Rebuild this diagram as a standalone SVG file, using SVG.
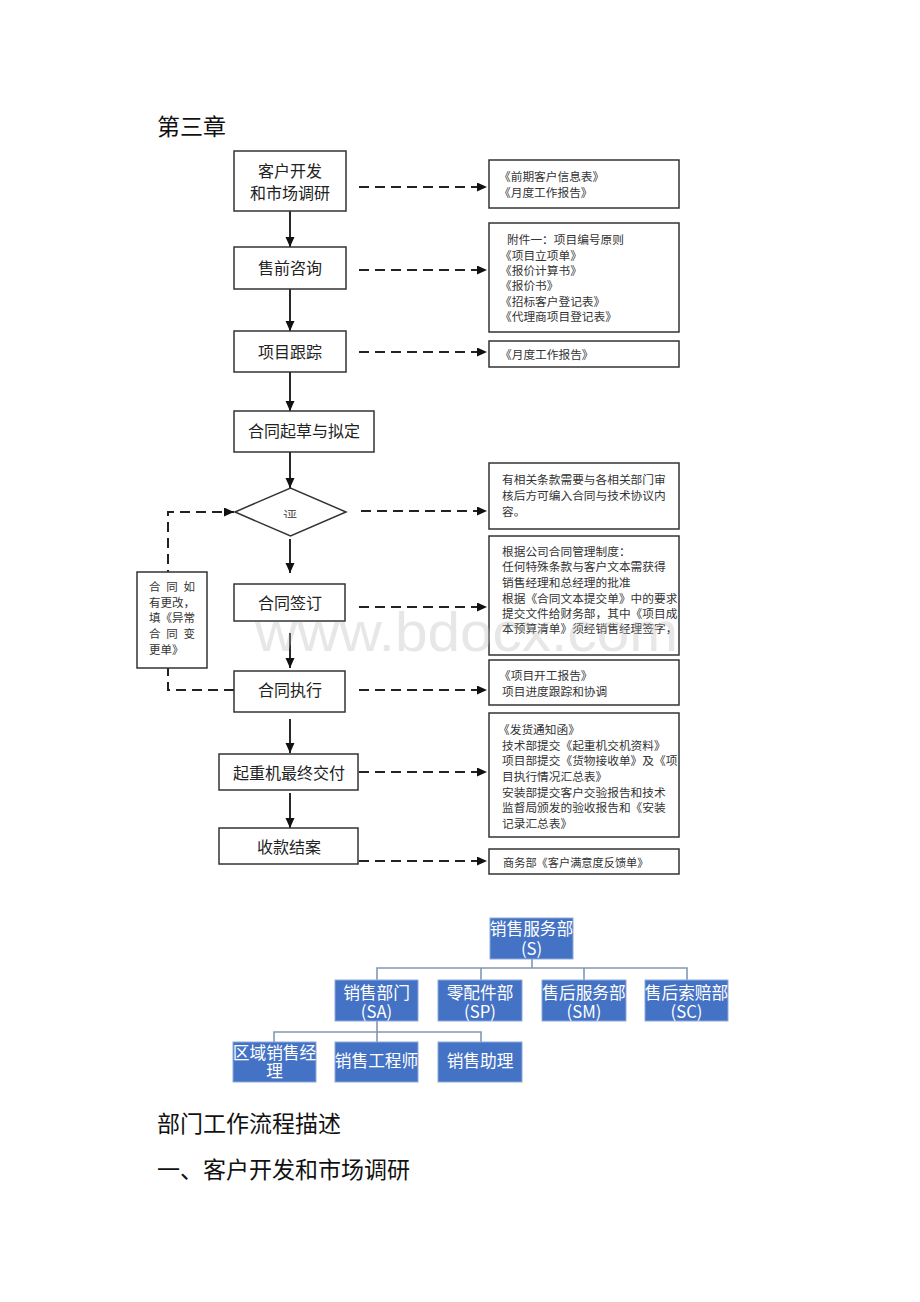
<svg xmlns="http://www.w3.org/2000/svg" width="920" height="1302" viewBox="0 0 920 1302">
<style>
text{font-family:"Noto Sans CJK SC","Liberation Sans",sans-serif;dominant-baseline:central}
.h{font-size:23px;fill:#111}
.bx{fill:#fff;stroke:#333;stroke-width:1.5}
.mt{font-size:16px;fill:#222;text-anchor:middle}
.rt{font-size:11.7px;fill:#333}
.lt{font-size:11.5px;fill:#333}
.sol{stroke:#111;stroke-width:1.8;fill:none}
.dash{stroke:#222;stroke-width:2;fill:none;stroke-dasharray:10 6}
.ob{fill:#4472c4;stroke:#8eaadb;stroke-width:1}
.ot{font-size:16.7px;fill:#fff;text-anchor:middle}
.oc{stroke:#8497b0;stroke-width:1.6;fill:none}
</style>
<defs>
<marker id="ah" markerUnits="userSpaceOnUse" markerWidth="11" markerHeight="10" refX="10" refY="4.5" orient="auto"><path d="M0,0 L10,4.5 L0,9 z" fill="#111"/></marker>
<clipPath id="cp"><rect x="270" y="500" width="40" height="18"/></clipPath>
</defs>

<text class="h" x="157" y="125">第三章</text>

<g id="connectors">
<line class="sol" x1="290" y1="211" x2="290" y2="247" marker-end="url(#ah)"/>
<line class="sol" x1="290" y1="289" x2="290" y2="331" marker-end="url(#ah)"/>
<line class="sol" x1="290" y1="372" x2="290" y2="411" marker-end="url(#ah)"/>
<line class="sol" x1="290" y1="452" x2="290" y2="488" marker-end="url(#ah)"/>
<line class="sol" x1="290" y1="539" x2="290" y2="573" marker-end="url(#ah)"/>
<line class="sol" x1="290" y1="633" x2="290" y2="668" marker-end="url(#ah)"/>
<line class="sol" x1="290" y1="719" x2="290" y2="753" marker-end="url(#ah)"/>
<line class="sol" x1="290" y1="793" x2="290" y2="828" marker-end="url(#ah)"/>
<line class="dash" x1="359" y1="187" x2="487" y2="187" marker-end="url(#ah)"/>
<line class="dash" x1="359" y1="270" x2="487" y2="270" marker-end="url(#ah)"/>
<line class="dash" x1="359" y1="352" x2="487" y2="352" marker-end="url(#ah)"/>
<line class="dash" x1="361" y1="511" x2="487" y2="511" marker-end="url(#ah)"/>
<line class="dash" x1="359" y1="607" x2="487" y2="607" marker-end="url(#ah)"/>
<line class="dash" x1="359" y1="690" x2="487" y2="690" marker-end="url(#ah)"/>
<line class="dash" x1="359" y1="772" x2="487" y2="772" marker-end="url(#ah)"/>
<line class="dash" x1="359" y1="861" x2="487" y2="861" marker-end="url(#ah)"/>
<path class="dash" d="M234,690 H168 V512 H234" marker-end="url(#ah)"/>
</g>

<g id="n1"><rect class="bx" x="234" y="151" width="112" height="60"/><text class="mt" x="290" y="170">客户开发</text><text class="mt" x="290" y="192">和市场调研</text></g>
<g id="n2"><rect class="bx" x="234" y="247" width="112" height="42"/><text class="mt" x="290" y="267">售前咨询</text></g>
<g id="n3"><rect class="bx" x="234" y="331" width="112" height="41"/><text class="mt" x="290" y="351">项目跟踪</text></g>
<g id="n4"><rect class="bx" x="234" y="411" width="140" height="41"/><text class="mt" x="304" y="430">合同起草与拟定</text></g>
<g id="n5"><path class="bx" d="M235,512 L290.5,488 L346,512 L290.5,536 Z"/><text x="290" y="515" style="font-size:14px;fill:#555;text-anchor:middle" clip-path="url(#cp)">评</text></g>
<g id="n6"><rect class="bx" x="234" y="584" width="111" height="37"/><text class="mt" x="290" y="602">合同签订</text></g>
<g id="n7"><rect class="bx" x="234" y="671" width="111" height="41"/><text class="mt" x="290" y="689">合同执行</text></g>
<g id="n8"><rect class="bx" x="219" y="754" width="139" height="36"/><text class="mt" x="289" y="772">起重机最终交付</text></g>
<g id="n9"><rect class="bx" x="219" y="828" width="139" height="36"/><text class="mt" x="289" y="846">收款结案</text></g>
<g id="n10"><rect class="bx" x="137" y="572" width="70" height="96"/>
<text class="lt" x="149" y="586" textLength="46" lengthAdjust="spacing">合同如</text>
<text class="lt" x="149" y="602">有更改，</text>
<text class="lt" x="149" y="617">填《异常</text>
<text class="lt" x="149" y="633" textLength="46" lengthAdjust="spacing">合同变</text>
<text class="lt" x="149" y="649">更单》</text></g>

<g id="r1"><rect class="bx" x="489" y="160" width="190" height="48"/><text class="rt" x="499" y="175">《前期客户信息表》</text><text class="rt" x="499" y="191">《月度工作报告》</text></g>
<g id="r2"><rect class="bx" x="489" y="223" width="190" height="109"/>
<text class="rt" x="507" y="238">附件一：项目编号原则</text>
<text class="rt" x="500" y="254">《项目立项单》</text>
<text class="rt" x="500" y="269">《报价计算书》</text>
<text class="rt" x="500" y="284">《报价书》</text>
<text class="rt" x="500" y="300">《招标客户登记表》</text>
<text class="rt" x="500" y="315">《代理商项目登记表》</text></g>
<g id="r3"><rect class="bx" x="489" y="341" width="190" height="26"/><text class="rt" x="500" y="353">《月度工作报告》</text></g>
<g id="r4"><rect class="bx" x="489" y="463" width="190" height="66"/>
<text class="rt" x="502" y="478">有相关条款需要与各相关部门审</text>
<text class="rt" x="502" y="494">核后方可编入合同与技术协议内</text>
<text class="rt" x="502" y="510">容。</text></g>
<g id="r5"><rect class="bx" x="489" y="536" width="190" height="119"/>
<text class="rt" x="502" y="550">根据公司合同管理制度：</text>
<text class="rt" x="502" y="565">任何特殊条款与客户文本需获得</text>
<text class="rt" x="502" y="581">销售经理和总经理的批准</text>
<text class="rt" x="502" y="597">根据《合同文本提交单》中的要求</text>
<text class="rt" x="502" y="612">提交文件给财务部，其中《项目成</text>
<text class="rt" x="502" y="627">本预算清单》须经销售经理签字，</text></g>
<g id="r6"><rect class="bx" x="489" y="660" width="190" height="45"/>
<text class="rt" x="499" y="674">《项目开工报告》</text>
<text class="rt" x="502" y="690">项目进度跟踪和协调</text></g>
<g id="r7"><rect class="bx" x="489" y="713" width="190" height="124"/>
<text class="rt" x="498" y="728">《发货通知函》</text>
<text class="rt" x="502" y="744">技术部提交《起重机交机资料》</text>
<text class="rt" x="502" y="759">项目部提交《货物接收单》及《项</text>
<text class="rt" x="502" y="775">目执行情况汇总表》</text>
<text class="rt" x="502" y="791">安装部提交客户交验报告和技术</text>
<text class="rt" x="502" y="806">监督局颁发的验收报告和《安装</text>
<text class="rt" x="502" y="822">记录汇总表》</text></g>
<g id="r8"><rect class="bx" x="489" y="849" width="190" height="25"/><text class="rt" x="503" y="862" style="font-size:11.2px">商务部《客户满意度反馈单》</text></g>

<g id="org-connectors">
<path class="oc" d="M532,959 V968 M377,980 V968 H687 V980 M481,968 V980 M584,968 V980"/>
<path class="oc" d="M377,1021 V1042 M274,1042 V1032 H481 V1042"/>
</g>
<g id="o1"><rect class="ob" x="490" y="918" width="83" height="41"/><text class="ot" x="531.5" y="928">销售服务部</text><text class="ot" x="531.5" y="948">(S)</text></g>
<g id="o2"><rect class="ob" x="335" y="980" width="83" height="41"/><text class="ot" x="376.5" y="992">销售部门</text><text class="ot" x="376.5" y="1011">(SA)</text></g>
<g id="o3"><rect class="ob" x="438" y="980" width="84" height="41"/><text class="ot" x="480" y="992">零配件部</text><text class="ot" x="480" y="1011">(SP)</text></g>
<g id="o4"><rect class="ob" x="542" y="980" width="84" height="41"/><text class="ot" x="584" y="992">售后服务部</text><text class="ot" x="584" y="1011">(SM)</text></g>
<g id="o5"><rect class="ob" x="645" y="980" width="83" height="41"/><text class="ot" x="686.5" y="992">售后索赔部</text><text class="ot" x="686.5" y="1011">(SC)</text></g>
<g id="o6"><rect class="ob" x="233" y="1042" width="83" height="40"/><text class="ot" x="274.5" y="1052">区域销售经</text><text class="ot" x="274.5" y="1070">理</text></g>
<g id="o7"><rect class="ob" x="335" y="1042" width="83" height="40"/><text class="ot" x="376.5" y="1060">销售工程师</text></g>
<g id="o8"><rect class="ob" x="438" y="1042" width="84" height="40"/><text class="ot" x="480" y="1060">销售助理</text></g>

<text class="h" x="157" y="1122">部门工作流程描述</text>
<text class="h" x="157" y="1168">一、客户开发和市场调研</text>

<text x="255" y="651" textLength="423" lengthAdjust="spacingAndGlyphs" style="font-family:'Liberation Sans',sans-serif;font-size:56px;fill:#bbb;opacity:0.35;dominant-baseline:alphabetic">www.bdocx.com</text>
</svg>
